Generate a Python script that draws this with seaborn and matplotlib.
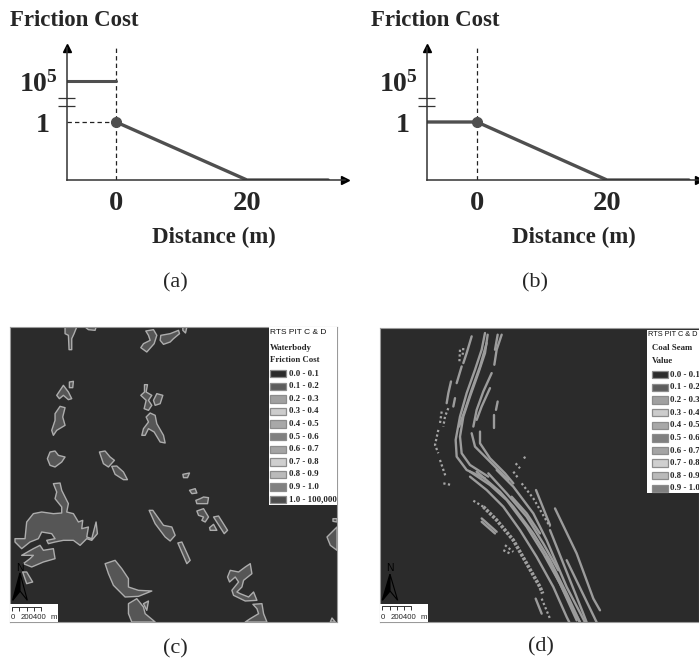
import matplotlib
matplotlib.use("Agg")
import matplotlib.pyplot as plt
from matplotlib.patches import Polygon, Rectangle
import pandas as pd
import seaborn as sns

W, H = 699, 660

# friction curve, y is drawn height on the broken axis (1 = cost 1, 1.707 = cost 10^5)
slope_x = [0, 20, 32.4]
slope_y = [1, 0, 0]
slope_x_b = [-7.7, 0, 20, 32.6]
slope_y_b = [1, 1, 0, 0]
high_x = [-7.48, 0]
high_y = [1.707, 1.707]
y_ticks = [1, 1.707]
y_labels = ["1", r"$\mathbf{10^5}$"]
x_ticks = [0, 20]

# legend
labels_c = ["0.0 - 0.1", "0.1 - 0.2", "0.2 - 0.3", "0.3 - 0.4", "0.4 - 0.5", "0.5 - 0.6",
            "0.6 - 0.7", "0.7 - 0.8", "0.8 - 0.9", "0.9 - 1.0", "1.0 - 100,000"]
labels_d = labels_c[:10]
greys_c = ["#2b2b2b", "#5d5d5d", "#a0a0a0", "#cccccc", "#a8a8a8", "#808080",
           "#a4a4a4", "#cfcfcf", "#bababa", "#808080", "#4d4d4d"]
greys_d = greys_c[:10]

# water bodies, map (c), in map units
ponds_north = [
    [(195, 20), (230, 20), (222, 40), (215, 55), (215, 88), (207, 88), (205, 45), (195, 40)],
    [(255, 20), (288, 20), (285, 30), (265, 28)],
    [(437, 32), (460, 28), (470, 45), (462, 70), (440, 95), (422, 82), (430, 70), (450, 60), (445, 45)],
    [(482, 45), (510, 40), (535, 30), (538, 40), (520, 55), (510, 65), (490, 72), (480, 60)],
    [(548, 20), (560, 20), (556, 38), (548, 30)],
    [(170, 225), (190, 195), (205, 215), (215, 235), (205, 238), (190, 225), (178, 235)],
    [(208, 185), (220, 183), (218, 202), (208, 202)],
    [(180, 258), (195, 262), (188, 290), (195, 315), (170, 330), (160, 345), (155, 330), (165, 300), (165, 280)],
    [(433, 193), (442, 193), (438, 215), (455, 225), (445, 240), (455, 255), (445, 270), (432, 265), (438, 240), (422, 225), (433, 215)],
    [(470, 220), (488, 225), (480, 250), (465, 255), (460, 240)],
    [(450, 278), (465, 285), (470, 310), (490, 345), (495, 368), (480, 365), (462, 335), (445, 325), (435, 345), (425, 345), (430, 325), (445, 305), (438, 290)],
]
ponds_mid = [
    [(150, 395), (165, 392), (175, 405), (195, 410), (185, 425), (165, 440), (150, 435), (142, 415)],
    [(298, 395), (315, 392), (330, 410), (343, 420), (325, 440), (310, 430)],
    [(335, 438), (350, 437), (370, 455), (382, 478), (370, 478), (345, 462)],
    [(548, 462), (568, 458), (562, 472), (550, 472)],
    [(568, 510), (585, 505), (590, 518), (575, 520)],
    [(587, 540), (600, 535), (610, 530), (625, 532), (622, 550), (605, 550), (590, 550)],
    [(590, 572), (610, 565), (625, 590), (615, 605), (605, 600), (610, 590), (595, 585)],
    [(640, 590), (655, 587), (682, 630), (672, 640)],
    [(628, 622), (640, 612), (650, 630), (630, 630)],
    [(447, 570), (458, 570), (490, 615), (515, 620), (525, 645), (510, 662), (495, 650), (465, 610)],
    [(533, 668), (545, 665), (570, 720), (560, 730)],
    [(980, 650), (1010, 620), (1010, 690), (990, 675)],
    [(998, 595), (1010, 595), (1010, 605), (998, 603)],
]
ponds_south = [
    [(160, 490), (180, 488), (185, 510), (205, 550), (200, 575), (220, 580), (235, 605), (248, 600), (245, 625), (265, 620),
     (260, 650), (275, 655), (288, 605), (292, 640), (275, 660), (260, 655), (240, 675), (220, 660), (190, 660), (165, 665),
     (145, 670), (140, 660), (165, 655), (155, 640), (125, 635), (115, 655), (90, 665), (65, 685), (45, 665), (45, 655),
     (75, 655), (80, 605), (100, 580), (125, 575), (160, 580), (185, 578), (185, 560), (165, 535), (170, 515)],
    [(65, 705), (100, 685), (120, 675), (130, 690), (160, 685), (165, 715), (130, 725), (95, 740), (70, 730), (90, 715), (100, 705)],
    [(68, 755), (80, 755), (98, 785), (80, 790)],
    [(315, 730), (345, 720), (365, 745), (385, 775), (385, 800), (415, 810), (455, 812), (415, 828), (375, 830), (340, 795), (325, 760)],
    [(385, 850), (410, 835), (430, 860), (435, 880), (465, 905), (395, 905), (385, 880)],
    [(430, 850), (445, 842), (440, 870)],
    [(682, 770), (690, 750), (715, 755), (735, 740), (750, 730), (755, 760), (730, 780), (725, 800), (710, 815), (720, 820),
     (745, 830), (760, 815), (770, 840), (735, 842), (700, 825), (695, 810), (715, 785), (705, 770), (688, 785)],
    [(758, 852), (785, 850), (790, 880), (800, 905), (735, 905), (750, 895), (775, 880), (770, 865)],
    [(990, 905), (995, 893), (1005, 905)],
]

# coal seam traces, map (d), in map units
seams_north = [
    [(405, 40), (395, 90), (375, 150), (350, 220), (330, 290), (317, 360), (320, 410), (350, 450), (405, 475)],
    [(413, 45), (405, 100), (385, 160), (360, 230), (340, 290), (330, 350), (335, 400), (360, 435), (415, 470)],
    [(410, 70), (390, 140), (365, 210), (345, 270), (327, 320)],
    [(425, 160), (400, 215), (380, 270), (370, 320)],
    [(420, 205), (395, 260), (380, 300)],
    [(365, 340), (375, 380), (410, 415), (450, 455), (475, 480)],
    [(390, 335), (390, 370), (420, 415), (465, 460), (490, 490)],
    [(455, 45), (440, 90), (433, 135)],
    [(443, 45), (435, 90)],
    [(365, 50), (350, 100), (340, 130)],
    [(335, 140), (320, 190)],
    [(303, 185), (295, 220), (290, 250)],
    [(315, 235), (310, 260)],
    [(443, 245), (438, 270)],
    [(433, 285), (433, 325)],
]
seams_south = [
    [(360, 470), (410, 510), (460, 560), (510, 630), (560, 710), (610, 800), (650, 890), (658, 906)],
    [(360, 455), (420, 495), (470, 540), (530, 620), (580, 700), (630, 790), (680, 900)],
    [(380, 455), (450, 515), (490, 560), (550, 640), (600, 720), (650, 820), (690, 906)],
    [(415, 460), (470, 520), (530, 590), (580, 670), (625, 750)],
    [(440, 450), (490, 500), (550, 580), (590, 660), (650, 800), (705, 906)],
    [(485, 530), (530, 580), (570, 640)],
    [(558, 510), (600, 615)],
    [(615, 565), (680, 700), (730, 835), (750, 870)],
    [(600, 630), (640, 730), (700, 880), (710, 906)],
    [(590, 710), (660, 850), (690, 906)],
    [(650, 720), (740, 906)],
    [(395, 595), (440, 635)],
    [(395, 605), (435, 640)],
    [(557, 835), (575, 880)],
]
seams_dotted = [
    [(330, 90), (328, 130)],
    [(340, 85), (338, 105)],
    [(275, 275), (270, 310)],
    [(295, 265), (285, 290), (280, 320)],
    [(265, 330), (255, 375), (265, 400)],
    [(270, 420), (287, 470)],
    [(280, 490), (305, 495)],
    [(522, 410), (528, 420)],
    [(497, 430), (510, 445)],
    [(490, 455), (505, 475)],
    [(515, 490), (550, 535), (600, 620)],
    [(370, 542), (400, 560)],
    [(465, 675), (490, 695)],
    [(460, 690), (480, 700)],
    [(575, 835), (600, 895)],
]
seams_heavy_dots = [
    [(400, 560), (440, 600), (490, 660), (530, 730), (570, 800), (578, 820)],
]

# north arrow and scale bar, in map units
arrow_left_c = [(38, 840), (60, 758), (60, 812)]
arrow_right_c = [(60, 758), (82, 840), (60, 812)]
scale_ticks_c = [37, 58, 80, 101, 123]
arrow_left_d = [(97, 840), (120, 762), (120, 812)]
arrow_right_d = [(120, 762), (143, 840), (120, 812)]
scale_ticks_d = [97, 119, 140, 161, 182]

sns.set_style("white")
plt.rcParams["font.family"] = ["Liberation Serif", "DejaVu Serif"]
plt.rcParams["mathtext.fontset"] = "custom"
plt.rcParams["mathtext.bf"] = "Liberation Serif:bold"
plt.rcParams["mathtext.rm"] = "Liberation Serif"

LINE = "#4f4f4f"
fig = plt.figure(figsize=(W / 100, H / 100), dpi=100, facecolor="white")


def px_axes(left, top, right, bottom):
    return fig.add_axes([left / W, 1 - bottom / H, (right - left) / W, (bottom - top) / H])


def curve_panel(left, right, x0, x20, xs, ys, show_high, name, title_x, label_x):
    ax = px_axes(left, 48, right, 180)
    unit = (x20 - x0) / 20
    ax.set_xlim((left - x0) / unit, (right - x0) / unit)
    ax.set_ylim(0, 132 / 58)
    ax.set_facecolor("none")
    sns.despine(ax=ax)
    for side in ["left", "bottom"]:
        ax.spines[side].set_linewidth(1.1)
        ax.spines[side].set_color("#333333")
    ax.axvline(0, color="#222222", lw=0.9, ls=(0, (3.5, 2.5)))
    if show_high:
        ax.plot([ax.get_xlim()[0], 0], [1, 1], color="#222222", lw=0.9, ls=(0, (3.5, 2.5)))
        sns.lineplot(x=high_x, y=high_y, ax=ax, color=LINE, lw=2.2)
    sns.lineplot(x=xs, y=ys, ax=ax, color=LINE, lw=2.4, estimator=None, sort=False)
    ax.plot([0], [1], "o", color=LINE, ms=7, clip_on=False)
    ax.hlines([1.414, 1.276], ax.get_xlim()[0] - 1.35, ax.get_xlim()[0] + 1.25, color="#333333", lw=0.9, clip_on=False)
    ax.plot(1, 0, ">", color="black", ms=6, transform=ax.transAxes, clip_on=False)
    ax.plot(0, 1, "^", color="black", ms=6, transform=ax.transAxes, clip_on=False)
    ax.set_xticks(x_ticks)
    ax.set_xticklabels(x_ticks, fontsize=20.5, fontweight="bold")
    ax.set_yticks(y_ticks)
    ax.set_yticklabels(y_labels, fontsize=20, fontweight="bold")
    ax.tick_params(length=0, pad=8)
    ax.tick_params(axis="y", pad=6.5)
    ax.yaxis.get_major_ticks()[0].set_pad(12.5)
    ax.get_yticklabels()[1].set_verticalalignment("center_baseline")
    ax.set_xlabel("")
    ax.set_ylabel("")
    fig.text(title_x / W, 1 - 21 / H, "Friction Cost", fontsize=16.5, fontweight="bold", va="center")
    fig.text(label_x / W, 1 - 237 / H, "Distance (m)", fontsize=16.5, fontweight="bold", ha="center", va="center")
    fig.text((label_x - 39) / W, 1 - 283 / H, name, fontsize=16, ha="center", va="center")
    return ax


curve_panel(67, 345, 116, 247, slope_x, slope_y, True, "(a)", 10, 214)
curve_panel(427, 699, 477, 607, slope_x_b, slope_y_b, False, "(b)", 371, 574)


def map_axes(left, top, right, bottom, xlim, ylim):
    ax = px_axes(left, top, right, bottom)
    ax.set_xlim(*xlim)
    ax.set_ylim(*ylim)
    ax.set_facecolor("#2b2b2b")
    ax.set_xticks([])
    ax.set_yticks([])
    for s in ax.spines.values():
        s.set_color("#9a9a9a")
        s.set_linewidth(0.8)
    return ax


def legend_box(ax, box, head, head_y, head_size, labels, greys, x_sw, start):
    x0, x1, y0, y1 = box
    ax.add_patch(Rectangle((x0, y0), x1 - x0, y1 - y0, fc="white", ec="none", zorder=5))
    ax.text(x0 + 3, head_y[0], head[0], family="Liberation Sans", fontsize=head_size, color="#111111", va="center", zorder=6, clip_on=True)
    ax.text(x_sw[2], head_y[1], head[1], fontsize=6.3, fontweight="bold", va="center", zorder=6)
    ax.text(x_sw[2], head_y[2], head[2], fontsize=6.3, fontweight="bold", va="center", zorder=6)
    for i, (lab, g) in enumerate(zip(labels, greys)):
        yc = start + i * 37.8
        ax.add_patch(Rectangle((x_sw[0], yc - 11), x_sw[1] - x_sw[0], 22, fc=g, ec="#8c8c8c", lw=0.9, zorder=6))
        ax.text(x_sw[1] + 7, yc, lab, fontsize=6.3, fontweight="bold", va="center", color="#222222", zorder=6, clip_on=True)


def north_scale(ax, arrow_l, arrow_r, x1, y0, y1, ticks, left):
    ax.add_patch(Rectangle((left, y0), x1 - left, y1 - y0, fc="white", ec="none", zorder=5))
    ax.fill(*zip(*arrow_l), color="black", zorder=6)
    ax.fill(*zip(*arrow_r), fc="#2b2b2b", ec="black", lw=0.8, zorder=6)
    ax.text(arrow_l[1][0], 742, "N", family="Liberation Sans", fontsize=7.5, ha="center", va="center", color="black", zorder=7)
    ax.plot([ticks[0], ticks[-1]], [y0 + 7, y0 + 7], color="#333333", lw=0.7, zorder=6)
    ax.vlines(ticks, y0 + 7, y0 + 19, color="#333333", lw=0.7, zorder=6)
    ax.text(ticks[0] + 1, 892, "0", family="Liberation Sans", fontsize=5.6, ha="center", va="center", zorder=6)
    ax.text(ticks[2] + 21, 892, "200400", family="Liberation Sans", fontsize=5.6, ha="center", va="center", zorder=6)
    ax.text(x1 - 12, 892, "m", family="Liberation Sans", fontsize=5.6, ha="center", va="center", zorder=6)


# map (c)
ax_c = map_axes(10, 327, 337, 622, (30, 1010), (905, 20))
for group in [ponds_north, ponds_mid, ponds_south]:
    for pts in group:
        ax_c.add_patch(Polygon(pts, closed=True, fc="#565656", ec="#adadad", lw=1.0, joinstyle="round"))
legend_box(ax_c, (805, 1010, 20, 555), ["RTS PIT C & D", "Waterbody", "Friction Cost"], (37, 82, 120), 6,
           labels_c, greys_c, (810, 858, 808), 160)
north_scale(ax_c, arrow_left_c, arrow_right_c, 173, 852, 905, scale_ticks_c, 30)
fig.text(175 / W, 1 - 649 / H, "(c)", fontsize=16, ha="center", va="center")

# map (d)
ax_d = map_axes(380, 328, 699, 622, (90, 1047), (905, 25))
for pts in seams_north + seams_south:
    df = pd.DataFrame(pts, columns=["x", "y"])
    sns.lineplot(data=df, x="x", y="y", ax=ax_d, color="#9c9c9c", lw=1.7, estimator=None, sort=False)
for pts in seams_dotted:
    df = pd.DataFrame(pts, columns=["x", "y"])
    sns.lineplot(data=df, x="x", y="y", ax=ax_d, color="#a6a6a6", lw=1.6, ls=(0, (1.0, 1.1)), estimator=None, sort=False)
for pts in seams_heavy_dots:
    df = pd.DataFrame(pts, columns=["x", "y"])
    sns.lineplot(data=df, x="x", y="y", ax=ax_d, color="#a0a0a0", lw=2.6, ls=(0, (0.8, 0.4)), estimator=None, sort=False)
ax_d.set_xlabel("")
ax_d.set_ylabel("")
ax_d.set_xlim(90, 1047)
ax_d.set_ylim(905, 25)
legend_box(ax_d, (890, 1047, 30, 520), ["RTS PIT C & D", "Coal Seam", "Value"], (43, 86, 124), 5.3,
           labels_d, greys_d, (905, 953, 905), 165)
north_scale(ax_d, arrow_left_d, arrow_right_d, 233, 850, 905, scale_ticks_d, 90)
fig.text(541 / W, 1 - 647 / H, "(d)", fontsize=16, ha="center", va="center")

fig.savefig("out.png", dpi=100)
